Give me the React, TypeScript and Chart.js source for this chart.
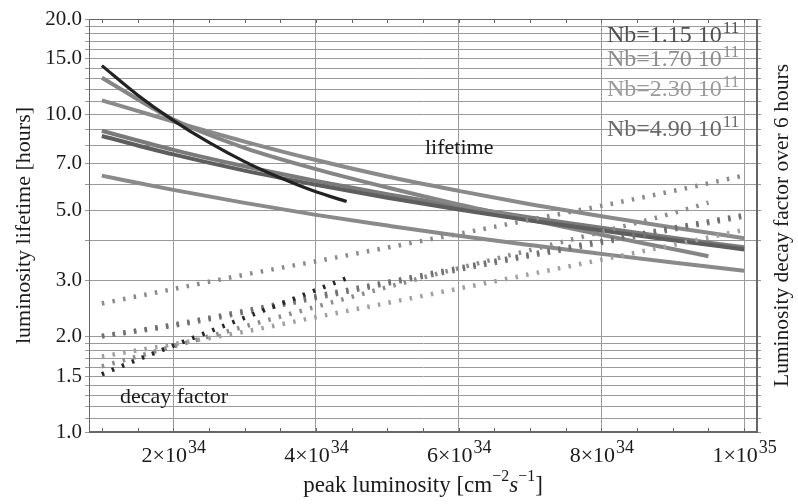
import React, { useEffect, useRef } from 'react';
import { Chart, registerables } from 'chart.js';

Chart.register(...registerables);

// x values are in units of 1e34 cm^-2 s^-1
const xFull = [1, 2, 3, 4, 5, 6, 7, 8, 9, 10];
const xShort = [1, 2, 3, 4, 5, 6, 7, 8, 9, 9.5];
const xBlack = [1, 1.5, 2, 2.5, 3, 3.5, 4, 4.43];

// luminosity lifetime [hours]
const lifeBlack = [14.26, 11.53, 9.59, 8.17, 7.11, 6.32, 5.71, 5.32];
const lifeA = [13.07, 9.66, 7.85, 6.73, 5.89, 5.21, 4.66, 4.18, 3.77, 3.58];
const lifeB = [11.09, 9.51, 8.22, 7.19, 6.38, 5.75, 5.22, 4.78, 4.41, 4.08];
const lifeC = [8.89, 7.74, 6.87, 6.18, 5.61, 5.14, 4.74, 4.4, 4.09, 3.82];
const lifeD = [8.56, 7.49, 6.66, 6.01, 5.47, 5.02, 4.64, 4.31, 4.02, 3.76];
const lifeE = [6.42, 5.79, 5.27, 4.83, 4.47, 4.15, 3.88, 3.64, 3.42, 3.22];

// luminosity decay factor over 6 hours
const decayBlack = [1.52, 1.69, 1.87, 2.07, 2.29, 2.53, 2.8, 3.05];
const decayA = [1.61, 1.86, 2.15, 2.48, 2.86, 3.28, 3.74, 4.27, 4.89, 5.28];
const decayB = [1.73, 1.89, 2.07, 2.3, 2.55, 2.83, 3.14, 3.49, 3.88, 4.33];
const decayC = [2.01, 2.18, 2.41, 2.68, 2.97, 3.29, 3.63, 4.0, 4.4, 4.83];
const decayD = [2.0, 2.16, 2.38, 2.64, 2.93, 3.24, 3.58, 3.94, 4.34, 4.77];
const decayE = [2.54, 2.82, 3.13, 3.45, 3.81, 4.21, 4.66, 5.16, 5.74, 6.43];

// axes
const yGridValues = [1, 1.1, 1.2, 1.3, 1.4, 1.5, 1.6, 1.7, 1.8, 1.9, 2, 3, 4, 5, 6, 7, 8, 9, 10, 11, 12, 13, 14, 15, 16, 17, 18, 19, 20];
const yLabelValues = [1, 1.5, 2, 3, 5, 7, 10, 15, 20];
const xTickValues = [2, 4, 6, 8, 10];
const xTickMantissas = ['2', '4', '6', '8', '1'];
const xTickExponents = ['34', '34', '34', '34', '35'];
const xMinorTicks = [1, 1.5, 2, 2.5, 3, 3.5, 4, 4.5, 5, 5.5, 6, 6.5, 7, 7.5, 8, 8.5, 9, 9.5, 10];

// annotations
const legendLabels = ['Nb=1.15 10', 'Nb=1.70 10', 'Nb=2.30 10', 'Nb=4.90 10'];
const legendExponent = '11';
const legendColors = ['#505050', '#8c8c8c', '#9a9a9a', '#686868'];

function pickSerif(): string {
  const c = document.createElement('canvas').getContext('2d');
  if (!c) return 'serif';
  const test = 'luminosity lifetime [hours] 1234567890';
  c.font = '40px monospace';
  const wm = c.measureText(test).width;
  const cands = ['Liberation Serif', 'Tinos', 'Times New Roman', 'Nimbus Roman', 'FreeSerif', 'DejaVu Serif Condensed', 'DejaVu Serif'];
  for (const f of cands) {
    c.font = `40px '${f}', monospace`;
    if (Math.abs(c.measureText(test).width - wm) > 0.5) return `'${f}', serif`;
  }
  return 'serif';
}

function pts(xs: number[], ys: number[]) {
  return xs.map((x, i) => ({ x, y: ys[i] }));
}

function makeOverlay(SERIF: string) {
  return {
    id: 'overlay',
    afterDraw(chart: any) {
      const ctx = chart.ctx as CanvasRenderingContext2D;
      const a = chart.chartArea;
      const xs = chart.scales.x;
      ctx.save();
      // frame
      ctx.strokeStyle = '#666';
      ctx.lineWidth = 1;
      ctx.strokeRect(Math.round(a.left) + 0.5, Math.round(a.top) + 0.5, Math.round(a.right - a.left) - 1, Math.round(a.bottom - a.top) - 1);
      // minor ticks top & bottom
      ctx.beginPath();
      xMinorTicks.forEach((v) => {
        const px = Math.round(xs.getPixelForValue(v)) + 0.5;
        ctx.moveTo(px, a.bottom);
        ctx.lineTo(px, a.bottom - 4);
        ctx.moveTo(px, a.top);
        ctx.lineTo(px, a.top + 4);
      });
      ctx.stroke();

      ctx.fillStyle = '#1a1a1a';
      ctx.textBaseline = 'alphabetic';
      ctx.textAlign = 'left';
      // x tick labels
      xTickValues.forEach((v, i) => {
        const base = xTickMantissas[i] + '\u00d710';
        const sup = xTickExponents[i];
        ctx.font = `22px ${SERIF}`;
        const wb = ctx.measureText(base).width;
        ctx.font = `18px ${SERIF}`;
        const ws = ctx.measureText(sup).width;
        const px = xs.getPixelForValue(v);
        const start = px - (wb + ws) / 2;
        ctx.font = `22px ${SERIF}`;
        ctx.fillText(base, start, 462);
        ctx.font = `18px ${SERIF}`;
        ctx.fillText(sup, start + wb + 1, 453);
      });

      // bottom title
      const parts: [string, string, number][] = [
        ['peak luminosity [cm', `23px ${SERIF}`, 0],
        ['\u22122', `16px ${SERIF}`, -11],
        ['s', `italic 23px ${SERIF}`, 0],
        ['\u22121', `16px ${SERIF}`, -11],
        [']', `23px ${SERIF}`, 0],
      ];
      let total = 0;
      const widths = parts.map(([t, f]) => {
        ctx.font = f;
        const w = ctx.measureText(t).width;
        total += w;
        return w;
      });
      let cx = (a.left + a.right) / 2 - total / 2;
      parts.forEach(([t, f, dy], i) => {
        ctx.font = f;
        ctx.fillText(t, cx, 492 + dy);
        cx += widths[i];
      });

      // left title
      ctx.save();
      ctx.translate(30, (a.top + a.bottom) / 2);
      ctx.rotate(-Math.PI / 2);
      ctx.textAlign = 'center';
      ctx.font = `22px ${SERIF}`;
      ctx.fillText('luminosity lifetime [hours]', 0, 0);
      ctx.restore();

      // right title
      ctx.save();
      ctx.translate(788, (a.top + a.bottom) / 2);
      ctx.rotate(-Math.PI / 2);
      ctx.textAlign = 'center';
      ctx.font = `21.5px ${SERIF}`;
      ctx.fillText('Luminosity decay factor over 6 hours', 0, 0);
      ctx.restore();

      // in-plot labels
      ctx.font = `22px ${SERIF}`;
      ctx.fillText('lifetime', 425, 154);
      ctx.fillText('decay factor', 120, 403);

      // legend annotations
      const baselines = [42, 66, 96, 136];
      legendLabels.forEach((t, i) => {
        ctx.fillStyle = legendColors[i];
        ctx.font = `24px ${SERIF}`;
        ctx.fillText(t, 607, baselines[i]);
        const w = ctx.measureText(t).width;
        ctx.font = `17px ${SERIF}`;
        ctx.fillText(legendExponent, 607 + w + 1, baselines[i] - 9);
      });
      ctx.restore();
    },
  };
}

export default function App() {
  const ref = useRef<HTMLCanvasElement | null>(null);
  useEffect(() => {
    if (!ref.current) return;
    const SERIF = pickSerif();
    const solid = (label: string, xs: number[], ys: number[], color: string, w: number) => ({
      label,
      data: pts(xs, ys),
      borderColor: color,
      backgroundColor: color,
      borderWidth: w,
      pointRadius: 0,
      fill: false,
      cubicInterpolationMode: 'monotone' as const,
    });
    const dotted = (label: string, xs: number[], ys: number[], color: string) => ({
      label,
      data: pts(xs, ys),
      borderColor: color,
      backgroundColor: color,
      borderWidth: 4.5,
      borderDash: [2.5, 8.3],
      borderCapStyle: 'butt' as const,
      pointRadius: 0,
      fill: false,
      cubicInterpolationMode: 'monotone' as const,
    });
    const yTicks = (axis: any) => {
      axis.ticks = yGridValues.map((v) => ({ value: v }));
    };
    const chart = new Chart(ref.current, {
      type: 'line',
      data: {
        datasets: [
          solid('lifetime black', xBlack, lifeBlack, '#222222', 3.2),
          dotted('decay black', xBlack, decayBlack, '#262626'),
          dotted('decay E', xFull, decayE, '#8a8a8a'),
          dotted('decay C', xFull, decayC, '#707070'),
          dotted('decay D', xFull, decayD, '#777777'),
          dotted('decay B', xFull, decayB, '#a0a0a0'),
          dotted('decay A', xShort, decayA, '#8c8c8c'),
          solid('lifetime D', xFull, lifeD, '#5e5e5e', 4),
          solid('lifetime A', xShort, lifeA, '#858585', 4),
          solid('lifetime B', xFull, lifeB, '#8a8a8a', 4),
          solid('lifetime C', xFull, lifeC, '#7a7a7a', 4),
          solid('lifetime E', xFull, lifeE, '#8a8a8a', 4),
        ],
      },
      plugins: [makeOverlay(SERIF)],
      options: {
        responsive: false,
        animation: false,
        devicePixelRatio: 1,
        layout: { padding: { top: 19, left: 0, right: 0, bottom: 0 } },
        plugins: { legend: { display: false }, tooltip: { enabled: false } },
        scales: {
          x: {
            type: 'linear',
            position: 'bottom',
            min: 0.82,
            max: 10.18,
            afterBuildTicks: (axis: any) => {
              axis.ticks = xTickValues.map((v) => ({ value: v }));
            },
            afterFit: (scale: any) => {
              scale.height = 72;
            },
            grid: { color: '#9a9a9a', lineWidth: 1, drawTicks: false },
            border: { display: true, color: '#666' },
            ticks: { display: false },
          },
          y: {
            type: 'logarithmic',
            position: 'left',
            min: 1,
            max: 20,
            afterBuildTicks: yTicks,
            afterFit: (scale: any) => {
              scale.width = 89;
            },
            grid: { color: '#9a9a9a', lineWidth: 1, drawTicks: true, tickLength: 4 },
            border: { display: true, color: '#666' },
            ticks: {
              autoSkip: false,
              padding: 3,
              color: '#1a1a1a',
              font: { family: SERIF, size: 21 },
              callback: (value: any) => (yLabelValues.includes(Number(value)) ? Number(value).toFixed(1) : ''),
            },
          },
          y2: {
            type: 'logarithmic',
            position: 'right',
            min: 1,
            max: 20,
            afterBuildTicks: yTicks,
            afterFit: (scale: any) => {
              scale.width = 41;
            },
            grid: { drawOnChartArea: false, color: '#9a9a9a', drawTicks: true, tickLength: 4 },
            border: { display: true, color: '#666' },
            ticks: { display: false },
          },
        },
      } as any,
    });
    return () => chart.destroy();
  }, []);
  return (
    <div style={{ position: 'absolute', left: 0, top: 0, width: 798, height: 504, background: '#fff' }}>
      <canvas ref={ref} width={798} height={504} style={{ display: 'block', width: 798, height: 504 }} />
    </div>
  );
}
